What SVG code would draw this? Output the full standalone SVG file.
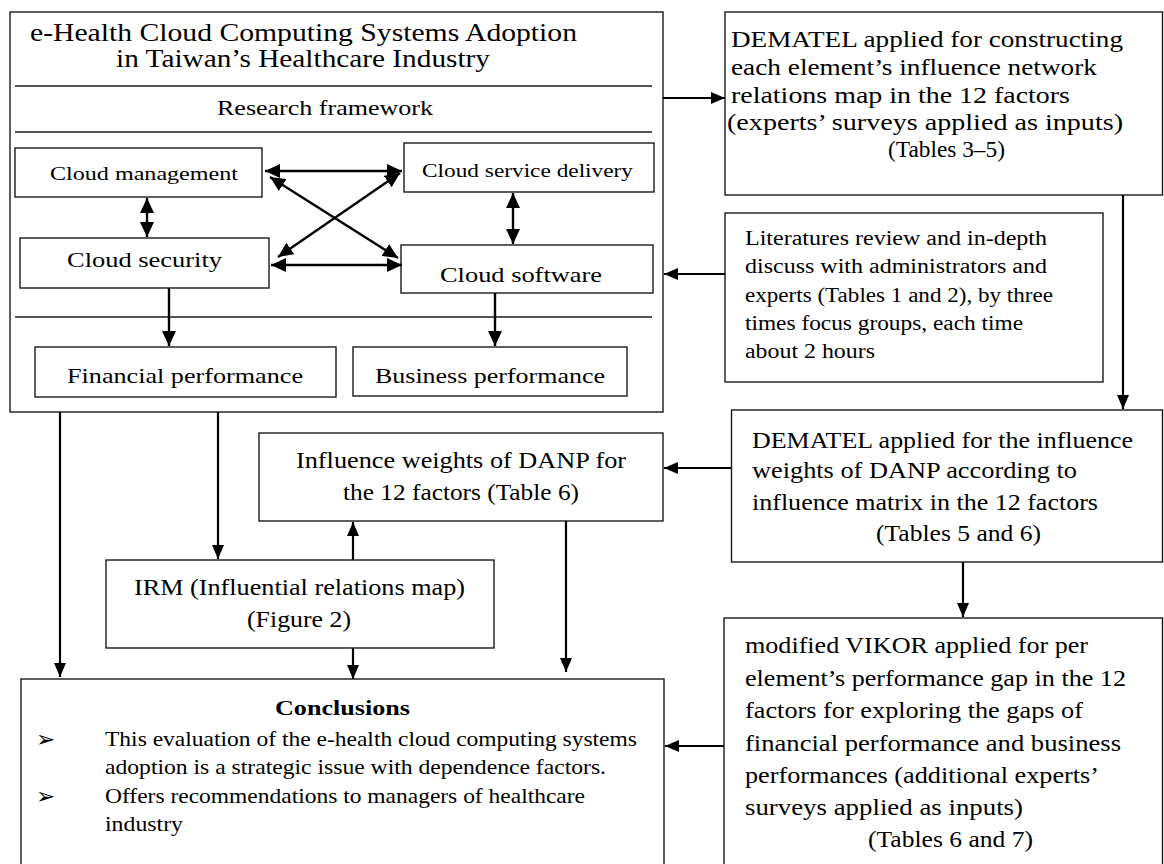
<svg xmlns="http://www.w3.org/2000/svg" width="1164" height="864" viewBox="0 0 1164 864">
<style>
  .box { fill: #fff; stroke: #1a1a1a; stroke-width: 1.4; }
  .sep { stroke: #1a1a1a; stroke-width: 1.4; fill: none; }
  .t { font-family: "Liberation Serif", "Times New Roman", serif; fill: #000; }
  .bul { font-family: "DejaVu Sans", sans-serif; font-size: 23px; fill: #000; }
  .conn { stroke: #000; stroke-width: 2.2; fill: none; }
  .inner { stroke: #000; stroke-width: 2.4; fill: none; }
</style>
<defs>
  <marker id="ah" viewBox="0 0 14 12" refX="14" refY="6" markerWidth="14" markerHeight="12" markerUnits="userSpaceOnUse" orient="auto-start-reverse">
    <path d="M0,0 L14,6 L0,12 z" fill="#000"/>
  </marker>
  <marker id="ahb" viewBox="0 0 15 14" refX="15" refY="7" markerWidth="15" markerHeight="14" markerUnits="userSpaceOnUse" orient="auto-start-reverse">
    <path d="M0,0 L15,7 L0,14 z" fill="#000"/>
  </marker>
</defs>
<rect width="1164" height="864" fill="#fff"/>

<g id="framework">
  <rect class="box" x="10" y="12" width="653" height="400"/>
  <text class="t" x="30" y="41" font-size="25" textLength="547" lengthAdjust="spacingAndGlyphs">e-Health Cloud Computing Systems Adoption</text>
  <text class="t" x="116" y="67" font-size="25" textLength="374" lengthAdjust="spacingAndGlyphs">in Taiwan’s Healthcare Industry</text>
  <line class="sep" x1="15" y1="86" x2="652" y2="86"/>
  <text class="t" x="217" y="115" font-size="22" textLength="216" lengthAdjust="spacingAndGlyphs">Research framework</text>
  <line class="sep" x1="15" y1="132" x2="652" y2="132"/>
  <line class="sep" x1="15" y1="317" x2="652" y2="317"/>
</g>

<g id="cloud-management">
  <rect class="box" x="15" y="148" width="247" height="49"/>
  <text class="t" x="50" y="180" font-size="19.5" textLength="188" lengthAdjust="spacingAndGlyphs">Cloud management</text>
</g>
<g id="cloud-service-delivery">
  <rect class="box" x="404" y="143" width="250" height="49"/>
  <text class="t" x="422" y="177" font-size="19.5" textLength="211" lengthAdjust="spacingAndGlyphs">Cloud service delivery</text>
</g>
<g id="cloud-security">
  <rect class="box" x="20" y="238" width="249" height="50"/>
  <text class="t" x="67" y="267" font-size="22" textLength="155" lengthAdjust="spacingAndGlyphs">Cloud security</text>
</g>
<g id="cloud-software">
  <rect class="box" x="401" y="245" width="252" height="48"/>
  <text class="t" x="440" y="282" font-size="22" textLength="162" lengthAdjust="spacingAndGlyphs">Cloud software</text>
</g>
<g id="financial-performance">
  <rect class="box" x="35" y="347" width="301" height="50"/>
  <text class="t" x="67" y="383" font-size="22" textLength="236" lengthAdjust="spacingAndGlyphs">Financial performance</text>
</g>
<g id="business-performance">
  <rect class="box" x="353" y="347" width="274" height="49"/>
  <text class="t" x="375" y="383" font-size="22" textLength="230" lengthAdjust="spacingAndGlyphs">Business performance</text>
</g>

<g id="dematel-construct">
  <rect class="box" x="725" y="12" width="437.5" height="183"/>
  <text class="t" x="731" y="47" font-size="23" textLength="392" lengthAdjust="spacingAndGlyphs">DEMATEL applied for constructing</text>
  <text class="t" x="731" y="75" font-size="23" textLength="366" lengthAdjust="spacingAndGlyphs">each element’s influence network</text>
  <text class="t" x="731" y="103" font-size="23" textLength="339" lengthAdjust="spacingAndGlyphs">relations map in the 12 factors</text>
  <text class="t" x="727" y="130" font-size="23" textLength="396" lengthAdjust="spacingAndGlyphs">(experts’ surveys applied as inputs)</text>
  <text class="t" x="888" y="157" font-size="23" textLength="117" lengthAdjust="spacingAndGlyphs">(Tables 3–5)</text>
</g>

<g id="literature-review">
  <rect class="box" x="725" y="213" width="378" height="169"/>
  <text class="t" x="745" y="245" font-size="20.5" textLength="302" lengthAdjust="spacingAndGlyphs">Literatures review and in-depth</text>
  <text class="t" x="745" y="273" font-size="20.5" textLength="302" lengthAdjust="spacingAndGlyphs">discuss with administrators and</text>
  <text class="t" x="745" y="302" font-size="20.5" textLength="308" lengthAdjust="spacingAndGlyphs">experts (Tables 1 and 2), by three</text>
  <text class="t" x="745" y="330" font-size="20.5" textLength="278" lengthAdjust="spacingAndGlyphs">times focus groups, each time</text>
  <text class="t" x="745" y="358" font-size="20.5" textLength="130" lengthAdjust="spacingAndGlyphs">about 2 hours</text>
</g>

<g id="dematel-weights">
  <rect class="box" x="731.5" y="410" width="431" height="152"/>
  <text class="t" x="752" y="448" font-size="22.5" textLength="381" lengthAdjust="spacingAndGlyphs">DEMATEL applied for the influence</text>
  <text class="t" x="752" y="478" font-size="22.5" textLength="325" lengthAdjust="spacingAndGlyphs">weights of DANP according to</text>
  <text class="t" x="752" y="510" font-size="22.5" textLength="346" lengthAdjust="spacingAndGlyphs">influence matrix in the 12 factors</text>
  <text class="t" x="876" y="541" font-size="22.5" textLength="165" lengthAdjust="spacingAndGlyphs">(Tables 5 and 6)</text>
</g>

<g id="influence-weights">
  <rect class="box" x="259" y="433" width="404" height="88"/>
  <text class="t" x="296" y="468" font-size="22.5" textLength="330" lengthAdjust="spacingAndGlyphs">Influence weights of DANP for</text>
  <text class="t" x="343" y="500" font-size="22.5" textLength="236" lengthAdjust="spacingAndGlyphs">the 12 factors (Table 6)</text>
</g>

<g id="irm">
  <rect class="box" x="106" y="560" width="388" height="88"/>
  <text class="t" x="134" y="595" font-size="22.5" textLength="331" lengthAdjust="spacingAndGlyphs">IRM (Influential relations map)</text>
  <text class="t" x="247" y="627" font-size="22.5" textLength="104" lengthAdjust="spacingAndGlyphs">(Figure 2)</text>
</g>

<g id="conclusions">
  <rect class="box" x="21" y="679" width="643" height="200"/>
  <text class="t" x="275" y="715" font-size="22" font-weight="bold" textLength="135" lengthAdjust="spacingAndGlyphs">Conclusions</text>
  <text class="bul" x="36" y="747">➢</text>
  <text class="t" x="105" y="746" font-size="21.5" textLength="532" lengthAdjust="spacingAndGlyphs">This evaluation of the e-health cloud computing systems</text>
  <text class="t" x="105" y="774" font-size="21.5" textLength="501" lengthAdjust="spacingAndGlyphs">adoption is a strategic issue with dependence factors.</text>
  <text class="bul" x="36" y="804">➢</text>
  <text class="t" x="105" y="803" font-size="21.5" textLength="480" lengthAdjust="spacingAndGlyphs">Offers recommendations to managers of healthcare</text>
  <text class="t" x="105" y="831" font-size="21.5" textLength="78" lengthAdjust="spacingAndGlyphs">industry</text>
</g>

<g id="vikor">
  <rect class="box" x="724" y="618" width="438.5" height="260"/>
  <text class="t" x="745" y="653" font-size="22.5" textLength="343" lengthAdjust="spacingAndGlyphs">modified VIKOR applied for per</text>
  <text class="t" x="745" y="686" font-size="22.5" textLength="381" lengthAdjust="spacingAndGlyphs">element’s performance gap in the 12</text>
  <text class="t" x="745" y="718" font-size="22.5" textLength="338" lengthAdjust="spacingAndGlyphs">factors for exploring the gaps of</text>
  <text class="t" x="745" y="751" font-size="22.5" textLength="376" lengthAdjust="spacingAndGlyphs">financial performance and business</text>
  <text class="t" x="745" y="783" font-size="22.5" textLength="354" lengthAdjust="spacingAndGlyphs">performances (additional experts’</text>
  <text class="t" x="745" y="815" font-size="22.5" textLength="278" lengthAdjust="spacingAndGlyphs">surveys applied as inputs)</text>
  <text class="t" x="868" y="847" font-size="22.5" textLength="165" lengthAdjust="spacingAndGlyphs">(Tables 6 and 7)</text>
</g>

<g id="connectors">
  <line class="inner" x1="265" y1="171" x2="402" y2="171" marker-start="url(#ahb)" marker-end="url(#ahb)"/>
  <line class="inner" x1="270" y1="177" x2="398" y2="258" marker-start="url(#ahb)" marker-end="url(#ahb)"/>
  <line class="inner" x1="400" y1="173" x2="278" y2="257" marker-start="url(#ahb)" marker-end="url(#ahb)"/>
  <line class="inner" x1="271" y1="265" x2="402" y2="265" marker-start="url(#ahb)" marker-end="url(#ahb)"/>
  <line class="inner" x1="147" y1="198" x2="147" y2="237" marker-start="url(#ahb)" marker-end="url(#ahb)"/>
  <line class="inner" x1="513" y1="193" x2="513" y2="244" marker-start="url(#ahb)" marker-end="url(#ahb)"/>
  <line class="inner" x1="169" y1="288" x2="169" y2="346" marker-end="url(#ahb)"/>
  <line class="inner" x1="495" y1="293" x2="495" y2="346" marker-end="url(#ahb)"/>

  <line class="conn" x1="663" y1="98" x2="725" y2="98" marker-end="url(#ah)"/>
  <line class="conn" x1="1123" y1="195" x2="1123" y2="409" marker-end="url(#ah)"/>
  <line class="conn" x1="725" y1="274" x2="664" y2="274" marker-end="url(#ah)"/>
  <line class="conn" x1="731" y1="468" x2="664" y2="468" marker-end="url(#ah)"/>
  <line class="conn" x1="963" y1="562" x2="963" y2="617" marker-end="url(#ah)"/>
  <line class="conn" x1="724" y1="746" x2="665" y2="746" marker-end="url(#ah)"/>
  <line class="conn" x1="60" y1="412" x2="60" y2="677" marker-end="url(#ah)"/>
  <line class="conn" x1="218" y1="412" x2="218" y2="559" marker-end="url(#ah)"/>
  <line class="conn" x1="353" y1="560" x2="353" y2="522" marker-end="url(#ah)"/>
  <line class="conn" x1="353" y1="648" x2="353" y2="679" marker-end="url(#ah)"/>
  <line class="conn" x1="566" y1="521" x2="566" y2="672" marker-end="url(#ah)"/>
</g>
</svg>
